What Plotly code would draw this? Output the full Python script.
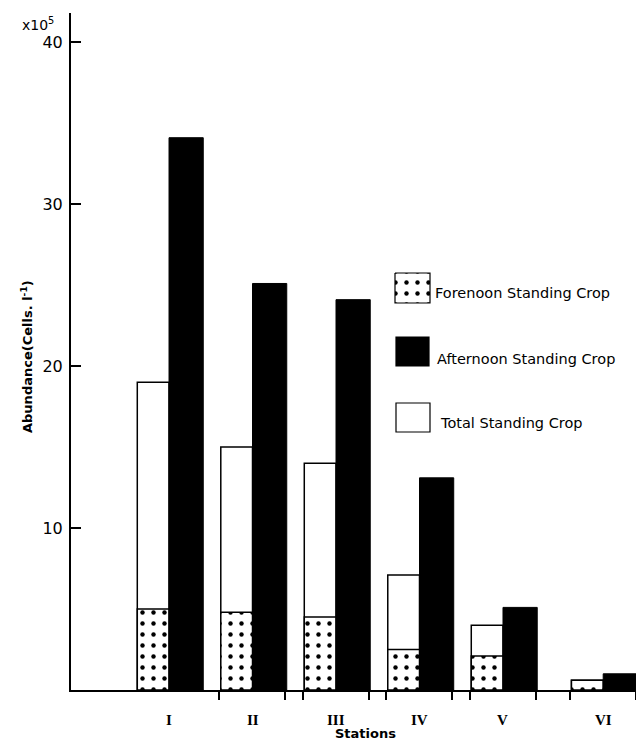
import plotly.graph_objects as go

# Phytoplankton abundance per station (x10^5 cells per litre)
stations = ["I", "II", "III", "IV", "V", "VI"]
forenoon = [5.0, 4.8, 4.5, 2.5, 2.1, 0.6]
afternoon = [34.1, 25.1, 24.1, 13.1, 5.1, 1.0]
total = [19.0, 15.0, 14.0, 7.1, 4.0, 0.6]
y_ticks = [10, 20, 30, 40]

# group centres along the station axis and bar widths (axis units)
centres = [0, 1, 2, 3, 4, 5.2]
bw_left = 0.38
bw_right = 0.41

W, H = 636, 752
ML, MR, MT, MB = 71, 0, 13, 62
PW, PH = W - ML - MR, H - MT - MB


def px_x(px):
    return (px - ML) / PW


def px_y(py):
    return (H - MB - py) / PH


FONT = "DejaVu Sans"
dots = dict(shape=".", fgcolor="black", bgcolor="white", fgopacity=1,
            size=11, solidity=0.13)

fig = go.Figure()

fig.add_trace(go.Bar(
    x=centres, y=total, offset=-bw_left, width=bw_left, name="Total Standing Crop",
    marker=dict(color="white", line=dict(color="black", width=1.5)),
    showlegend=False,
))
fig.add_trace(go.Bar(
    x=centres, y=forenoon, offset=-bw_left, width=bw_left,
    name="Forenoon Standing Crop",
    marker=dict(color="white", pattern=dots, line=dict(color="black", width=1.5)),
    showlegend=False,
))
fig.add_trace(go.Bar(
    x=centres, y=afternoon, offset=0, width=bw_right,
    name="Afternoon Standing Crop",
    marker=dict(color="black", line=dict(color="black", width=1)),
    showlegend=False,
))

# hand-drawn key on the right
key = [
    ("Forenoon Standing Crop", "dots", (395, 430, 273, 303), (433, 293)),
    ("Afternoon Standing Crop", "black", (396, 429, 337, 366), (435, 359)),
    ("Total Standing Crop", "white", (396, 430, 403, 432), (438, 423)),
]
for label, style, (x0, x1, y0, y1), (tx, ty) in key:
    xs = [px_x(x0), px_x(x1), px_x(x1), px_x(x0), px_x(x0)]
    ys = [px_y(y0), px_y(y0), px_y(y1), px_y(y1), px_y(y0)]
    if style == "dots":
        fig.add_trace(go.Scatter(
            x=xs, y=ys, xaxis="x3", yaxis="y3", mode="lines", fill="toself",
            fillcolor="white", fillpattern=dots, line=dict(color="black", width=1.2),
            hoverinfo="skip", showlegend=False,
        ))
    else:
        fig.add_shape(type="rect", xref="paper", yref="paper",
                      x0=xs[0], x1=xs[1], y0=ys[2], y1=ys[0],
                      fillcolor="black" if style == "black" else "white",
                      line=dict(color="black", width=1.2))
    fig.add_annotation(x=px_x(tx), y=px_y(ty), xref="paper", yref="paper",
                       text=label, showarrow=False, xanchor="left", yanchor="middle",
                       font=dict(family=FONT, size=14.5, color="black"))

# station names under each group
for c, s in zip(centres, stations):
    fig.add_annotation(x=c, y=0, xref="x", yref="y", text="<b>" + s + "</b>",
                       showarrow=False, yanchor="top", yshift=-20,
                       font=dict(family="Liberation Serif", size=15, color="black"))

# short marks at group edges along the base line
edges = []
for c in centres[1:]:
    edges += [c - bw_left - 0.02, c + bw_right - 0.02]

fig.add_annotation(x=px_x(56), y=px_y(24), xref="paper", yref="paper",
                   text="x10<sup>5</sup>", showarrow=False, xanchor="right",
                   yanchor="middle", font=dict(family=FONT, size=14, color="black"))
fig.add_annotation(x=px_x(17), y=px_y(357), xref="paper", yref="paper",
                   text="<b>Abundance(Cells. l<sup>-1</sup>)</b>", showarrow=False,
                   textangle=-90, font=dict(family=FONT, size=13, color="black"))
fig.add_annotation(x=px_x(365), y=px_y(743), xref="paper", yref="paper",
                   text="<b>Stations</b>", showarrow=False,
                   font=dict(family=FONT, size=13, color="black"))

fig.update_layout(
    width=W, height=H,
    margin=dict(l=ML, r=MR, t=MT, b=MB, pad=0),
    paper_bgcolor="white", plot_bgcolor="rgba(0,0,0,0)",
    barmode="overlay", showlegend=False,
    xaxis=dict(range=[-1.174, 5.593], tickvals=edges, showticklabels=False,
               ticks="outside", ticklen=8, tickwidth=1.5, tickcolor="black",
               showline=True, linecolor="black", linewidth=2,
               showgrid=False, zeroline=False, fixedrange=True),
    yaxis=dict(range=[0, 41.8], tickvals=y_ticks, ticks="inside", ticklen=10,
               tickwidth=2, tickcolor="black", showline=True, linecolor="black",
               linewidth=2, showgrid=False, zeroline=False,
               ticklabelstandoff=3,
               tickfont=dict(family=FONT, size=16, color="black")),
    xaxis3=dict(domain=[0, 1], range=[0, 1], visible=False, anchor="y3"),
    yaxis3=dict(domain=[0, 1], range=[0, 1], visible=False, anchor="x3"),
)

fig.write_html("out.html")
